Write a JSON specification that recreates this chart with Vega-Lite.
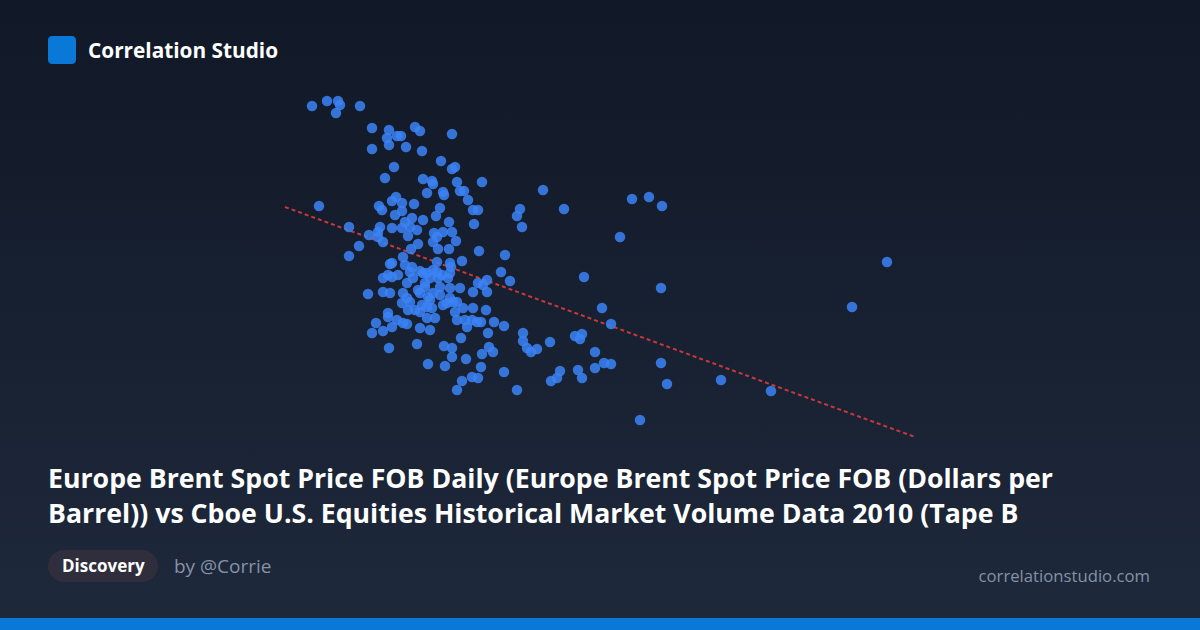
{
  "$schema": "https://vega.github.io/schema/vega-lite/v6.json",
  "width": 1200,
  "height": 630,
  "padding": 0,
  "autosize": {"type": "fit", "contains": "padding"},
  "background": "#161e30",
  "config": {"view": {"stroke": null}},
  "datasets": {
    "points": [
      {"brent":31.2,"tapeB":34.4},{"brent":32.7,"tapeB":34.9},{"brent":33.8,"tapeB":34.9},{"brent":34.0,"tapeB":34.5},{"brent":33.6,"tapeB":33.7},
      {"brent":36.0,"tapeB":34.4},{"brent":37.2,"tapeB":32.2},{"brent":38.9,"tapeB":32.0},{"brent":38.7,"tapeB":31.2},{"brent":39.7,"tapeB":31.4},
      {"brent":40.1,"tapeB":31.4},{"brent":38.9,"tapeB":30.5},{"brent":37.2,"tapeB":30.1},{"brent":40.6,"tapeB":30.3},{"brent":41.5,"tapeB":32.3},
      {"brent":42.0,"tapeB":31.9},{"brent":45.2,"tapeB":31.6},{"brent":42.2,"tapeB":29.9},{"brent":39.4,"tapeB":28.3},{"brent":44.1,"tapeB":28.9},
      {"brent":45.2,"tapeB":28.1},{"brent":45.5,"tapeB":28.3},{"brent":38.5,"tapeB":27.2},{"brent":42.3,"tapeB":27.1},{"brent":43.2,"tapeB":26.9},
      {"brent":43.3,"tapeB":26.6},{"brent":45.7,"tapeB":26.8},{"brent":48.2,"tapeB":26.8},{"brent":42.7,"tapeB":25.7},{"brent":44.3,"tapeB":25.8},
      {"brent":44.4,"tapeB":25.5},{"brent":46.0,"tapeB":25.9},{"brent":46.4,"tapeB":25.9},{"brent":46.8,"tapeB":25.0},{"brent":39.6,"tapeB":25.3},
      {"brent":39.2,"tapeB":24.9},{"brent":40.2,"tapeB":24.7},{"brent":41.4,"tapeB":24.6},{"brent":37.9,"tapeB":24.4},{"brent":31.9,"tapeB":24.4},
      {"brent":54.3,"tapeB":26.0},{"brent":56.4,"tapeB":24.1},{"brent":52.0,"tapeB":24.1},{"brent":51.7,"tapeB":23.4},{"brent":52.2,"tapeB":22.3},
      {"brent":63.2,"tapeB":25.1},{"brent":64.9,"tapeB":25.3},{"brent":66.2,"tapeB":24.4},{"brent":62.0,"tapeB":21.3},{"brent":38.2,"tapeB":24.0},
      {"brent":39.5,"tapeB":23.5},{"brent":40.2,"tapeB":23.9},{"brent":44.0,"tapeB":24.2},{"brent":47.3,"tapeB":24.0},{"brent":47.8,"tapeB":24.0},
      {"brent":43.6,"tapeB":23.4},{"brent":42.3,"tapeB":23.0},{"brent":41.2,"tapeB":23.2},{"brent":40.5,"tapeB":22.8},{"brent":41.0,"tapeB":22.3},
      {"brent":41.7,"tapeB":22.0},{"brent":40.2,"tapeB":22.2},{"brent":39.2,"tapeB":22.2},{"brent":38.0,"tapeB":22.3},{"brent":37.8,"tapeB":21.8},
      {"brent":37.8,"tapeB":21.3},{"brent":38.3,"tapeB":20.8},{"brent":36.9,"tapeB":21.5},{"brent":34.9,"tapeB":22.3},{"brent":35.9,"tapeB":20.4},
      {"brent":34.9,"tapeB":19.4},{"brent":40.8,"tapeB":21.4},{"brent":43.4,"tapeB":21.7},{"brent":43.7,"tapeB":21.3},{"brent":44.3,"tapeB":21.8},
      {"brent":45.2,"tapeB":21.8},{"brent":44.9,"tapeB":22.8},{"brent":47.4,"tapeB":22.6},{"brent":45.6,"tapeB":20.9},{"brent":43.3,"tapeB":20.8},
      {"brent":43.8,"tapeB":20.1},{"brent":44.9,"tapeB":20.1},{"brent":41.8,"tapeB":20.6},{"brent":41.1,"tapeB":20.1},{"brent":47.9,"tapeB":19.9},
      {"brent":50.5,"tapeB":19.5},{"brent":40.3,"tapeB":19.3},{"brent":39.0,"tapeB":18.6},{"brent":40.5,"tapeB":18.5},{"brent":41.2,"tapeB":18.3},
      {"brent":42.0,"tapeB":17.9},{"brent":41.0,"tapeB":17.8},{"brent":43.7,"tapeB":18.8},{"brent":45.0,"tapeB":18.7},{"brent":46.2,"tapeB":18.9},
      {"brent":43.7,"tapeB":17.8},{"brent":43.8,"tapeB":17.2},{"brent":43.0,"tapeB":17.2},{"brent":42.5,"tapeB":16.7},{"brent":39.8,"tapeB":17.5},
      {"brent":39.2,"tapeB":17.3},{"brent":41.3,"tapeB":17.2},{"brent":40.7,"tapeB":16.7},{"brent":38.3,"tapeB":15.8},{"brent":39.0,"tapeB":15.7},
      {"brent":36.8,"tapeB":15.6},{"brent":42.0,"tapeB":15.7},{"brent":43.3,"tapeB":15.7},{"brent":44.0,"tapeB":15.5},{"brent":45.0,"tapeB":15.2},
      {"brent":46.0,"tapeB":16.2},{"brent":47.8,"tapeB":16.7},{"brent":48.7,"tapeB":17.0},{"brent":47.3,"tapeB":15.8},{"brent":48.7,"tapeB":15.8},
      {"brent":50.1,"tapeB":17.8},{"brent":51.0,"tapeB":16.9},{"brent":40.7,"tapeB":15.2},{"brent":45.7,"tapeB":14.8},{"brent":58.4,"tapeB":17.3},
      {"brent":66.1,"tapeB":16.2},{"brent":38.8,"tapeB":13.7},{"brent":37.6,"tapeB":12.7},{"brent":37.2,"tapeB":11.7},{"brent":38.3,"tapeB":11.9},
      {"brent":39.2,"tapeB":12.3},{"brent":40.3,"tapeB":12.7},{"brent":40.7,"tapeB":12.6},{"brent":40.2,"tapeB":14.7},{"brent":41.0,"tapeB":14.8},
      {"brent":42.2,"tapeB":14.5},{"brent":43.0,"tapeB":15.0},{"brent":42.0,"tapeB":12.2},{"brent":43.0,"tapeB":12.0},{"brent":43.5,"tapeB":13.2},
      {"brent":42.0,"tapeB":13.8},{"brent":42.7,"tapeB":13.2},{"brent":45.3,"tapeB":14.8},{"brent":45.5,"tapeB":13.8},{"brent":45.7,"tapeB":13.0},
      {"brent":46.5,"tapeB":13.0},{"brent":46.7,"tapeB":12.3},{"brent":47.2,"tapeB":13.0},{"brent":47.7,"tapeB":12.8},{"brent":48.1,"tapeB":12.8},
      {"brent":47.3,"tapeB":14.2},{"brent":48.6,"tapeB":14.0},{"brent":49.4,"tapeB":12.8},{"brent":50.4,"tapeB":12.4},{"brent":48.8,"tapeB":11.7},
      {"brent":46.1,"tapeB":11.2},{"brent":38.9,"tapeB":10.2},{"brent":41.7,"tapeB":10.6},{"brent":44.4,"tapeB":10.4},{"brent":45.2,"tapeB":10.2},
      {"brent":45.2,"tapeB":9.3},{"brent":46.6,"tapeB":9.1},{"brent":48.2,"tapeB":9.6},{"brent":48.9,"tapeB":10.3},{"brent":49.3,"tapeB":9.8},
      {"brent":42.8,"tapeB":8.6},{"brent":44.5,"tapeB":8.4},{"brent":48.1,"tapeB":8.3},{"brent":50.4,"tapeB":7.8},{"brent":47.2,"tapeB":7.3},
      {"brent":47.8,"tapeB":7.2},{"brent":46.2,"tapeB":6.9},{"brent":45.7,"tapeB":6.0},{"brent":51.7,"tapeB":6.0},{"brent":60.2,"tapeB":14.2},
      {"brent":61.1,"tapeB":12.6},{"brent":57.5,"tapeB":11.4},{"brent":58.2,"tapeB":11.6},{"brent":58.0,"tapeB":11.1},{"brent":55.0,"tapeB":10.8},
      {"brent":52.3,"tapeB":11.7},{"brent":52.3,"tapeB":10.9},{"brent":52.7,"tapeB":10.2},{"brent":53.1,"tapeB":9.8},{"brent":53.7,"tapeB":10.1},
      {"brent":59.5,"tapeB":9.8},{"brent":60.4,"tapeB":8.7},{"brent":61.1,"tapeB":8.6},{"brent":59.5,"tapeB":8.2},{"brent":57.8,"tapeB":8.0},
      {"brent":58.2,"tapeB":7.2},{"brent":56.0,"tapeB":7.9},{"brent":55.7,"tapeB":7.2},{"brent":55.1,"tapeB":6.9},{"brent":66.1,"tapeB":8.7},
      {"brent":66.7,"tapeB":6.6},{"brent":64.0,"tapeB":3.0},{"brent":72.1,"tapeB":7.0},{"brent":77.1,"tapeB":5.9},{"brent":85.2,"tapeB":14.3},
      {"brent":88.7,"tapeB":18.8},{"brent":38.8,"tapeB":13.3},{"brent":40.8,"tapeB":14.0},{"brent":42.7,"tapeB":14.3},{"brent":43.2,"tapeB":14.2},
      {"brent":44.3,"tapeB":14.5},{"brent":44.7,"tapeB":14.7},{"brent":46.3,"tapeB":14.2},{"brent":41.8,"tapeB":16.0},{"brent":42.5,"tapeB":16.3},
      {"brent":42.7,"tapeB":17.7},{"brent":43.3,"tapeB":18.0},{"brent":44.0,"tapeB":16.3},{"brent":42.8,"tapeB":15.3},{"brent":40.3,"tapeB":15.7},
      {"brent":39.2,"tapeB":18.7},{"brent":45.0,"tapeB":17.7},{"brent":44.8,"tapeB":17.2},{"brent":45.0,"tapeB":16.2},{"brent":48.3,"tapeB":16.5},
      {"brent":44.2,"tapeB":17.5},{"brent":45.1,"tapeB":18.3},{"brent":42.3,"tapeB":17.7},{"brent":38.3,"tapeB":17.2},{"brent":38.8,"tapeB":17.5},
      {"brent":41.5,"tapeB":14.0},{"brent":39.7,"tapeB":13.0}
    ],
    "trend": [
      {"brent":28.5,"tapeB":24.3},
      {"brent":91.5,"tapeB":1.3}
    ]
  },
  "layer": [
    {
      "data": {"values": [{}]},
      "mark": {"type": "rect", "x": 0, "x2": 1200, "y": 0, "y2": 630,
        "fill": {"gradient": "linear", "x1": 0, "y1": 0, "x2": 0, "y2": 1,
          "stops": [{"offset": 0, "color": "#111827"}, {"offset": 1, "color": "#1e293b"}]}},
      "encoding": {}
    },
    {
      "data": {"name": "trend"},
      "mark": {"type": "line", "color": "#dc3b3b", "strokeWidth": 2, "strokeDash": [4, 3], "opacity": 0.9},
      "encoding": {
        "x": {"field": "brent", "type": "quantitative", "axis": null, "scale": {"domain": [0, 120], "nice": false, "zero": false}},
        "y": {"field": "tapeB", "type": "quantitative", "axis": null, "scale": {"domain": [-18, 45], "nice": false, "zero": false}}
      }
    },
    {
      "data": {"name": "points"},
      "mark": {"type": "circle", "size": 110, "color": "#3b82f6", "opacity": 0.85},
      "encoding": {
        "x": {"field": "brent", "type": "quantitative", "axis": null, "scale": {"domain": [0, 120], "nice": false, "zero": false}},
        "y": {"field": "tapeB", "type": "quantitative", "axis": null, "scale": {"domain": [-18, 45], "nice": false, "zero": false}}
      }
    },
    {
      "data": {"values": [{}]},
      "mark": {"type": "rect", "x": 48, "x2": 76, "y": 36, "y2": 64, "cornerRadius": 4, "fill": "#0a78d6"},
      "encoding": {}
    },
    {
      "data": {"values": [{}]},
      "mark": {"type": "text", "x": 88, "y": 58, "text": "Correlation Studio", "font": "Open Sans", "fontWeight": "bold", "fontSize": 20.8, "color": "#ffffff", "align": "left", "baseline": "alphabetic"},
      "encoding": {}
    },
    {
      "data": {"values": [{}]},
      "mark": {"type": "text", "x": 48, "y": 488, "text": ["Europe Brent Spot Price FOB Daily (Europe Brent Spot Price FOB (Dollars per", "Barrel)) vs Cboe U.S. Equities Historical Market Volume Data 2010 (Tape B"], "lineHeight": 35, "font": "Open Sans", "fontWeight": "bold", "fontSize": 26.7, "color": "#ffffff", "align": "left", "baseline": "alphabetic"},
      "encoding": {}
    },
    {
      "data": {"values": [{}]},
      "mark": {"type": "rect", "x": 48, "x2": 158, "y": 550, "y2": 582, "cornerRadius": 16, "fill": "#302e3d"},
      "encoding": {}
    },
    {
      "data": {"values": [{}]},
      "mark": {"type": "text", "x": 62, "y": 572, "text": "Discovery", "font": "Open Sans", "fontWeight": "bold", "fontSize": 17, "color": "#ffffff", "align": "left", "baseline": "alphabetic"},
      "encoding": {}
    },
    {
      "data": {"values": [{}]},
      "mark": {"type": "text", "x": 174, "y": 573, "text": "by @Corrie", "font": "Open Sans", "fontSize": 19, "color": "#8592a8", "align": "left", "baseline": "alphabetic"},
      "encoding": {}
    },
    {
      "data": {"values": [{}]},
      "mark": {"type": "text", "x": 1150, "y": 582, "text": "correlationstudio.com", "font": "Open Sans", "fontSize": 16.7, "color": "#8592a8", "align": "right", "baseline": "alphabetic"},
      "encoding": {}
    },
    {
      "data": {"values": [{}]},
      "mark": {"type": "rect", "x": 0, "x2": 1200, "y": 618, "y2": 630, "fill": "#0a78d6"},
      "encoding": {}
    }
  ]
}
